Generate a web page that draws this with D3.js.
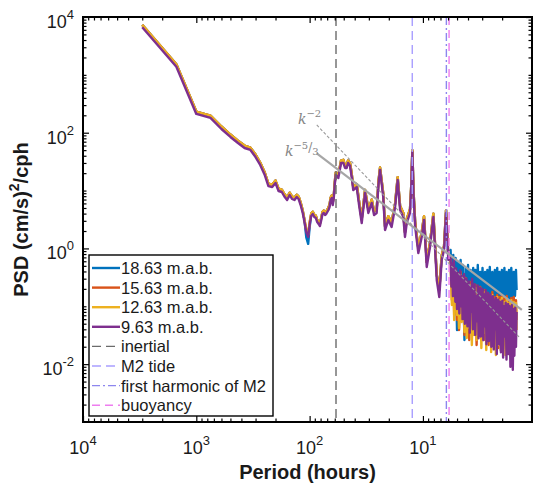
<!DOCTYPE html>
<html lang="en">
<head>
<meta charset="utf-8">
<title>psd_spectra</title>
<script src="https://cdn.jsdelivr.net/npm/d3@7"></script>
<style>
    body { margin: 0; background: #fff; }
    text { font-family: "Liberation Sans", Arial, sans-serif; }
</style>
</head>
<body>
<script>
var w = 535;
var h = 484;
var plot = {left: 83, right: 532, top: 17, bottom: 422};

// ---- data ----
var seriesNames = ["18.63 m.a.b.", "15.63 m.a.b.", "12.63 m.a.b.", "9.63 m.a.b."];
var seriesColors = ["#0072BD", "#D95319", "#EDB120", "#7E2F8E"];

// periods (hours): smooth low-frequency part, middle part, dense high-frequency part
var periodLow = [3000, 1500, 1000, 750, 600, 500, 429, 375, 333, 300, 273, 250, 231, 214, 200, 188, 176, 167, 158, 150,
    143, 136, 130, 125, 120, 115, 111, 107, 103, 100, 96.8, 93.8, 90.9, 88.2, 85.7, 83.3, 81.1, 78.9, 76.9, 75.0,
    73.2, 71.4, 69.8, 68.2, 66.7, 65.2, 63.8, 62.5, 61.2, 60.0, 58.8];
var periodMid = [55.8, 52.8, 50.4, 48.7, 47.1, 45.8, 44.0, 42.5, 41.2, 38.4, 36.6, 34.7, 32.4, 30.3, 28.3, 27.0, 25.6,
    24.7, 23.9, 22.4, 21.6, 20.2, 18.9, 17.6, 16.7, 15.9, 14.9, 14.4, 13.9, 13.0, 12.7, 12.4, 12.1, 11.7, 10.98,
    10.25, 9.78, 9.26, 8.66, 8.09, 7.55, 7.17, 6.83, 6.51, 6.25, 5.97];
var periodDense = [5.7, 5.55, 5.4, 5.3, 5.15, 5.0, 4.9, 4.8, 4.65, 4.55, 4.45, 4.3, 4.2, 4.1, 4.0, 3.9, 3.8, 3.7, 3.6,
    3.52, 3.44, 3.36, 3.28, 3.2, 3.12, 3.05, 2.98, 2.9, 2.83, 2.76, 2.7, 2.63, 2.57, 2.5, 2.44, 2.38, 2.32, 2.27,
    2.21, 2.16, 2.11, 2.06, 2.01, 1.96, 1.91, 1.87, 1.82, 1.78, 1.74, 1.7, 1.66, 1.62, 1.58, 1.54, 1.51, 1.49];
// the bottom (purple) curve is read at a finer spacing
var periodDensePurple = [5.7, 5.61, 5.52, 5.43, 5.34, 5.25, 5.17, 5.09, 5.0, 4.92, 4.84, 4.77, 4.69, 4.61, 4.54, 4.47,
    4.40, 4.33, 4.26, 4.19, 4.12, 4.05, 3.99, 3.92, 3.86, 3.80, 3.74, 3.68, 3.62, 3.56, 3.50, 3.45, 3.39, 3.34, 3.28,
    3.23, 3.18, 3.13, 3.08, 3.03, 2.98, 2.93, 2.88, 2.84, 2.79, 2.75, 2.70, 2.66, 2.62, 2.57, 2.53, 2.49, 2.45, 2.41,
    2.37, 2.34, 2.30, 2.26, 2.23, 2.19, 2.16, 2.12, 2.09, 2.05, 2.02, 1.99, 1.96, 1.92, 1.89, 1.86, 1.83, 1.80, 1.77,
    1.75, 1.72, 1.69, 1.66, 1.64, 1.61, 1.58, 1.56, 1.53, 1.51, 1.49];

// PSD (cm/s)^2/cph, low + mid part
var psdPurpleLowMid = [6640, 1384, 211, 180, 116, 84.4, 66.4, 54.4, 50.3, 38.0, 27.7, 19.0, 11.9, 11.5, 13.5, 9.83,
    9.45, 7.9, 6.87, 8.39, 7.15, 6.87, 7.75, 7.15, 5.63, 4.10, 2.86, 1.92, 1.58, 2.54, 3.64, 3.94, 3.49, 3.36, 2.86,
    2.65, 2.44, 3.10, 3.94, 4.10, 3.78, 3.94, 4.26, 4.62, 5.20, 6.87, 7.44, 5.63, 7.44, 12.5, 18.6,
    16.5, 30.0, 30.0, 24.6, 24.6, 30.0, 26.6, 17.2, 10.2, 11.5, 5.63, 2.75, 9.08, 4.10, 6.10, 3.78, 4.10, 12.5, 22.7,
    7.75, 2.08, 3.10, 2.35, 5.20, 15.2, 4.62, 3.49, 1.58, 2.75, 4.10, 10.2, 46.4, 8.39, 2.35, 0.834, 1.58, 3.10,
    0.478, 1.06, 3.49, 0.285, 0.145, 0.631, 0.94, 4.10, 0.631];
var psdWarmLowMid = [7300, 1520, 232, 198, 128, 93, 73, 60, 55, 42, 30.5, 21, 13.1, 12.6, 14.9, 10.8, 10.4, 8.7, 7.6,
    9.2, 7.9, 7.6, 8.5, 7.9, 6.2, 4.5, 3.1, 2.1, 1.75, 2.8, 4.0, 4.3, 3.8, 3.7, 3.1, 2.9, 2.7, 3.4, 4.3, 4.5, 4.2,
    4.3, 4.7, 5.1, 5.7, 7.6, 8.2, 6.2, 8.2, 13.8, 20.5,
    18.5, 33, 34, 27, 28, 33, 30, 19.5, 11.5, 13, 6.5, 3.2, 10.3, 4.7, 7.0, 4.4, 4.7, 14.2, 25, 8.9, 2.4, 3.6, 2.8,
    6.0, 17, 5.4, 4.1, 1.9, 3.2, 4.8, 11.5, 50, 9.6, 2.8, 1.0, 1.9, 3.6, 0.58, 1.25, 4.0, 0.35, 0.19, 0.75, 1.1,
    4.6, 0.75];
var psdBlueLowMid = [7300, 1520, 232, 198, 128, 93, 73, 60, 55, 42, 30.5, 21, 13.1, 12.6, 14.9, 10.8, 10.4, 8.7, 7.6,
    9.2, 7.9, 7.6, 8.5, 7.9, 6.2, 4.5, 3.1, 1.55, 1.2, 2.3, 4.0, 4.3, 3.8, 3.7, 3.1, 2.9, 2.7, 3.4, 4.3, 4.5, 4.2,
    4.3, 4.7, 5.1, 5.7, 7.6, 8.2, 6.2, 8.2, 13.8, 20.5,
    18.5, 33, 34, 27, 28, 33, 30, 19.5, 11.5, 13, 6.5, 3.2, 10.3, 4.7, 7.0, 4.4, 4.7, 14.2, 25, 8.9, 2.4, 3.6, 2.8,
    6.0, 17, 5.4, 4.1, 1.9, 3.2, 4.8, 11.5, 50, 9.6, 2.8, 1.0, 1.9, 3.6, 0.58, 1.25, 4.0, 0.35, 0.19, 0.75, 1.1,
    4.6, 0.75];

// dense part, one array per series
var denseBlue = [0.94, 0.233, 0.770, 0.157, 0.684, 0.0390, 0.583, 0.177, 0.631, 0.105, 0.517, 0.0261, 0.459, 0.0863,
    0.517, 0.105, 0.424, 0.0707, 0.459, 0.128, 0.424, 0.0863, 0.517, 0.105, 0.392, 0.0628, 0.459, 0.128, 0.392,
    0.0863, 0.424, 0.105, 0.478, 0.128, 0.392, 0.0797, 0.424, 0.139, 0.459, 0.105, 0.392, 0.128, 0.424, 0.151,
    0.459, 0.114, 0.392, 0.139, 0.424, 0.128, 0.459, 0.119, 0.392, 0.151, 0.424, 0.191];
var denseOrange = [0.684, 0.128, 0.517, 0.0707, 0.424, 0.0580, 0.347, 0.0390, 0.392, 0.0863, 0.285, 0.0319, 0.308,
    0.0475, 0.233, 0.0261, 0.263, 0.0390, 0.207, 0.0580, 0.233, 0.0214, 0.191, 0.0390, 0.216, 0.0319, 0.177, 0.0261,
    0.191, 0.0475, 0.170, 0.0214, 0.157, 0.0390, 0.177, 0.0261, 0.145, 0.0319, 0.157, 0.0190, 0.145, 0.0390, 0.157,
    0.0261, 0.139, 0.0214, 0.151, 0.0319, 0.128, 0.0261, 0.139, 0.0214, 0.145, 0.0390, 0.128, 0.0580];
var denseYellow = [0.583, 0.105, 0.459, 0.0580, 0.392, 0.0707, 0.308, 0.0422, 0.347, 0.0536, 0.253, 0.0360, 0.285,
    0.0283, 0.216, 0.0422, 0.233, 0.0214, 0.191, 0.0319, 0.207, 0.0261, 0.170, 0.0319, 0.191, 0.0190, 0.157, 0.0346,
    0.177, 0.0176, 0.151, 0.0261, 0.139, 0.0162, 0.157, 0.0283, 0.128, 0.0144, 0.145, 0.0214, 0.128, 0.0176, 0.139,
    0.0261, 0.119, 0.0144, 0.134, 0.0214, 0.114, 0.0176, 0.128, 0.0162, 0.119, 0.0214, 0.114, 0.0390];
var densePurple = [0.70, 0.22, 0.55, 0.15, 0.62, 0.30, 0.12, 0.45, 0.09, 0.38,
    0.16, 0.075, 0.42, 0.10, 0.33, 0.06, 0.24, 0.36, 0.05, 0.20,
    0.30, 0.045, 0.13, 0.27, 0.035, 0.22, 0.08, 0.30, 0.04, 0.19,
    0.24, 0.032, 0.15, 0.055, 0.23, 0.028, 0.18, 0.21, 0.03, 0.12,
    0.20, 0.026, 0.16, 0.045, 0.19, 0.022, 0.11, 0.17, 0.025, 0.14,
    0.16, 0.02, 0.09, 0.15, 0.018, 0.13, 0.04, 0.14, 0.015, 0.11,
    0.13, 0.022, 0.12, 0.016, 0.08, 0.125, 0.013, 0.10, 0.03, 0.115,
    0.012, 0.09, 0.11, 0.015, 0.10, 0.009, 0.085, 0.105, 0.008, 0.09,
    0.014, 0.095, 0.02, 0.08];

// reference periods (hours)
var refNames = ["inertial", "M2 tide", "first harmonic of M2", "buoyancy"];
var refPeriods = [58.5, 12.42, 6.21, 5.88];
var refColors = ["#6b6b6b", "#a99eff", "#8d86ee", "#ee7def"];
var refDash = ["9,5", "9,5", "8,3,2,3", "8,5"];

// slope guide lines [period, psd] end points
var slopeMinus2 = [[86.5, 136], [1.39, 0.0283]];
var slopeMinus53 = [[86.5, 44], [1.34, 0.0863]];

var xMajor = [1e4, 1e3, 1e2, 1e1];
var xExp = ["4", "3", "2", "1"];
var yMajor = [1e4, 1e2, 1, 1e-2];
var yExp = ["4", "2", "0", "-2"];

// ---- scales ----
var xScale = d3.scaleLog()
    .domain([1e4, 1.09])
    .range([plot.left, plot.right]);

var yScale = d3.scaleLog()
    .domain([1e-3, 1e4])
    .range([plot.bottom, plot.top]);

var svg = d3.select("body")
    .append("svg")
    .attr("width", w)
    .attr("height", h);

svg.append("defs").append("clipPath")
    .attr("id", "clip")
    .append("rect")
    .attr("x", plot.left).attr("y", plot.top)
    .attr("width", plot.right - plot.left)
    .attr("height", plot.bottom - plot.top);

var periodLowMid = periodLow.concat(periodMid);
var seriesPeriods = [
    periodLowMid.concat(periodDense),
    periodLowMid.concat(periodDense),
    periodLowMid.concat(periodDense),
    periodLowMid.concat(periodDensePurple)
];
var seriesValues = [
    psdBlueLowMid.concat(denseBlue),
    psdWarmLowMid.concat(denseOrange),
    psdWarmLowMid.concat(denseYellow),
    psdPurpleLowMid.concat(densePurple)
];

var line = d3.line()
    .x(function(d){ return xScale(d[0]); })
    .y(function(d){ return yScale(d[1]); });

var dataG = svg.append("g").attr("clip-path", "url(#clip)");

dataG.selectAll("path.series")
    .data(seriesValues)
    .enter()
    .append("path")
    .attr("class", "series")
    .attr("d", function(vals, s){
        return line(vals.map(function(v, i){ return [seriesPeriods[s][i], v]; }));
    })
    .attr("fill", "none")
    .attr("stroke", function(d, i){ return seriesColors[i]; })
    .attr("stroke-width", 2.4)
    .attr("stroke-linejoin", "round");

// vertical reference lines
dataG.selectAll("line.ref")
    .data(refPeriods)
    .enter()
    .append("line")
    .attr("class", "ref")
    .attr("x1", function(d){ return xScale(d); })
    .attr("x2", function(d){ return xScale(d); })
    .attr("y1", plot.top)
    .attr("y2", plot.bottom)
    .attr("stroke", function(d, i){ return refColors[i]; })
    .attr("stroke-width", 1.4)
    .attr("stroke-dasharray", function(d, i){ return refDash[i]; });

// slope guides
dataG.append("line")
    .attr("x1", xScale(slopeMinus53[0][0])).attr("y1", yScale(slopeMinus53[0][1]))
    .attr("x2", xScale(slopeMinus53[1][0])).attr("y2", yScale(slopeMinus53[1][1]))
    .attr("stroke", "#a6a6a6")
    .attr("stroke-width", 2.2);

dataG.append("line")
    .attr("x1", xScale(slopeMinus2[0][0])).attr("y1", yScale(slopeMinus2[0][1]))
    .attr("x2", xScale(slopeMinus2[1][0])).attr("y2", yScale(slopeMinus2[1][1]))
    .attr("stroke", "#9a9a9a")
    .attr("stroke-width", 1.1)
    .attr("stroke-dasharray", "3,2");

var kLab2 = svg.append("text")
    .attr("x", 298).attr("y", 124)
    .attr("fill", "#858585")
    .style("font-family", "'DejaVu Serif', serif")
    .style("font-size", "14px");
kLab2.append("tspan").text("k").style("font-style", "italic");
kLab2.append("tspan").text("\u22122").attr("dy", -7).style("font-size", "10px");

var kLab53 = svg.append("text")
    .attr("x", 285).attr("y", 156)
    .attr("fill", "#858585")
    .style("font-family", "'DejaVu Serif', serif")
    .style("font-size", "14px");
kLab53.append("tspan").text("k").style("font-style", "italic");
kLab53.append("tspan").text("\u22125").attr("dy", -7).style("font-size", "10px");
kLab53.append("tspan").text("/").attr("dy", 3).style("font-size", "12px");
kLab53.append("tspan").text("3").attr("dy", 3).style("font-size", "10px");

// ---- axes: ticks inside on all four sides ----
function minorTicks(e0, e1, lo, hi) {
    var out = [];
    for (var e = e0; e < e1; e++) {
        for (var m = 1; m <= 9; m++) {
            var v = m * Math.pow(10, e);
            if (v > lo && v < hi) out.push(v);
        }
    }
    return out;
}
var xMinor = minorTicks(0, 4, 1.09, 1e4).filter(function(v){ return xMajor.indexOf(v) < 0; });
var yMinor = minorTicks(-3, 4, 1e-3, 1e4).filter(function(v){ return yMajor.indexOf(v) < 0; });

function tickSet(axisFn, scale, vals, len, tx, ty) {
    var g = svg.append("g")
        .attr("transform", "translate(" + tx + "," + ty + ")")
        .call(axisFn(scale).tickValues(vals).tickSize(-len).tickSizeOuter(0).tickFormat(""));
    g.select(".domain").remove();
    g.selectAll("line").attr("stroke", "#000").attr("stroke-width", 1.2);
}
tickSet(d3.axisBottom, xScale, xMajor, 6, 0, plot.bottom);
tickSet(d3.axisBottom, xScale, xMinor, 3.5, 0, plot.bottom);
tickSet(d3.axisTop, xScale, xMajor, 6, 0, plot.top);
tickSet(d3.axisTop, xScale, xMinor, 3.5, 0, plot.top);
tickSet(d3.axisLeft, yScale, yMajor, 6, plot.left, 0);
tickSet(d3.axisLeft, yScale, yMinor, 3.5, plot.left, 0);
tickSet(d3.axisRight, yScale, yMajor, 6, plot.right, 0);
tickSet(d3.axisRight, yScale, yMinor, 3.5, plot.right, 0);

svg.append("rect")
    .attr("x", plot.left).attr("y", plot.top)
    .attr("width", plot.right - plot.left)
    .attr("height", plot.bottom - plot.top)
    .attr("fill", "none")
    .attr("stroke", "#000")
    .attr("stroke-width", 2);

// tick labels
var xLab = svg.selectAll("text.xlab")
    .data(xMajor)
    .enter()
    .append("text")
    .attr("class", "xlab")
    .attr("x", function(d){ return xScale(d); })
    .attr("y", 454)
    .attr("text-anchor", "middle")
    .style("font-size", "18px")
    .attr("fill", "#1a1a1a");
xLab.append("tspan").text("10");
xLab.append("tspan").text(function(d, i){ return xExp[i]; })
    .attr("dy", -9).style("font-size", "13px");

var yLab = svg.selectAll("text.ylab")
    .data(yMajor)
    .enter()
    .append("text")
    .attr("class", "ylab")
    .attr("x", 74)
    .attr("y", function(d){ return yScale(d) + 11; })
    .attr("text-anchor", "end")
    .style("font-size", "18px")
    .attr("fill", "#1a1a1a");
yLab.append("tspan").text("10");
yLab.append("tspan").text(function(d, i){ return yExp[i].replace("-", "\u2010"); })
    .attr("dy", -9).style("font-size", "13px");

// axis titles
svg.append("text")
    .attr("x", (plot.left + plot.right) / 2)
    .attr("y", 479)
    .attr("text-anchor", "middle")
    .style("font-size", "20px")
    .style("font-weight", "bold")
    .attr("fill", "#1a1a1a")
    .text("Period (hours)");

var yTitle = svg.append("text")
    .attr("transform", "translate(28," + (plot.top + plot.bottom) / 2 + ") rotate(-90)")
    .attr("text-anchor", "middle")
    .style("font-size", "20px")
    .style("font-weight", "bold")
    .attr("fill", "#1a1a1a");
yTitle.append("tspan").text("PSD (cm/s)");
yTitle.append("tspan").text("2").attr("dy", -9).style("font-size", "14px");
yTitle.append("tspan").text("/cph").attr("dy", 9);

// ---- legend ----
var legend = {x: 89, y: 255, w: 184, h: 161, row0: 268, step: 19.6};
var legNames = seriesNames.concat(refNames);
var legColors = seriesColors.concat(refColors);
var legDash = [null, null, null, null].concat(refDash);

svg.append("rect")
    .attr("x", legend.x).attr("y", legend.y)
    .attr("width", legend.w).attr("height", legend.h)
    .attr("fill", "#fff")
    .attr("stroke", "#000")
    .attr("stroke-width", 1.4);

var legRows = svg.selectAll("g.leg")
    .data(legNames)
    .enter()
    .append("g")
    .attr("class", "leg")
    .attr("transform", function(d, i){ return "translate(0," + (legend.row0 + i * legend.step) + ")"; });

legRows.append("line")
    .attr("x1", legend.x + 3).attr("x2", legend.x + 31)
    .attr("y1", 0).attr("y2", 0)
    .attr("stroke", function(d, i){ return legColors[i]; })
    .attr("stroke-width", function(d, i){ return i < 4 ? 2.4 : 1.4; })
    .attr("stroke-dasharray", function(d, i){ return legDash[i]; });

legRows.append("text")
    .attr("x", legend.x + 32)
    .attr("y", 6)
    .style("font-size", "16.5px")
    .attr("fill", "#1a1a1a")
    .text(function(d){ return d; });
</script>
</body>
</html>
